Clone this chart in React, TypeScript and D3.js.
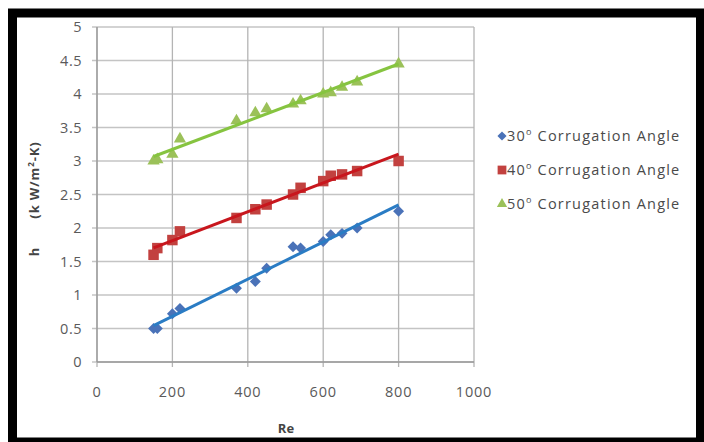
import * as d3 from "d3";

// Re values shared by all three series
const reValues = [150, 160, 200, 220, 370, 420, 450, 520, 540, 600, 620, 650, 690, 800];
const h30 = [0.5, 0.5, 0.72, 0.8, 1.1, 1.2, 1.4, 1.72, 1.7, 1.8, 1.9, 1.92, 2.0, 2.25];
const h40 = [1.6, 1.7, 1.82, 1.95, 2.15, 2.28, 2.35, 2.5, 2.6, 2.7, 2.78, 2.8, 2.85, 3.0];
const h50 = [3.0, 3.02, 3.1, 3.33, 3.6, 3.72, 3.78, 3.85, 3.9, 4.0, 4.02, 4.1, 4.18, 4.45];

const seriesNames = ["30\u00b0 Corrugation Angle", "40\u00b0 Corrugation Angle", "50\u00b0 Corrugation Angle"];
const xTicks = [0, 200, 400, 600, 800, 1000];
const yTicks = [0, 0.5, 1, 1.5, 2, 2.5, 3, 3.5, 4, 4.5, 5];

const W = 704;
const H = 442;

const x = d3.scaleLinear().domain([0, 1000]).range([97, 474]);
const y = d3.scaleLinear().domain([0, 5]).range([362, 27]);

const styles = [
  { marker: "#4a72b8", line: "#2a7cc4", symbol: d3.symbolSquare, size: 60, rot: 45 },
  { marker: "#c2413f", line: "#c8161d", symbol: d3.symbolSquare, size: 110, rot: 0 },
  { marker: "#9bc159", line: "#86c440", symbol: d3.symbolTriangle, size: 65, rot: 0 },
];

// least squares trend line
function fit(xs: number[], ys: number[]) {
  const mx = d3.mean(xs)!;
  const my = d3.mean(ys)!;
  let num = 0;
  let den = 0;
  xs.forEach((v, i) => {
    num += (v - mx) * (ys[i] - my);
    den += (v - mx) * (v - mx);
  });
  const b = num / den;
  const a = my - b * mx;
  const x0 = d3.min(xs)!;
  const x1 = d3.max(xs)!;
  return [
    [x0, a + b * x0],
    [x1, a + b * x1],
  ];
}

const font = "'Open Sans', 'Liberation Sans', sans-serif";

export default function App() {
  const all = [h30, h40, h50];
  const line = d3
    .line<number[]>()
    .x((d) => x(d[0]))
    .y((d) => y(d[1]));

  return (
    <svg width={W} height={H} style={{ position: "absolute", left: 0, top: 0 }}>
      <rect x={0} y={0} width={W} height={H} fill="#fff" />
      {/* black frame */}
      <rect x={12.5} y={13} width={688} height={429} fill="none" stroke="#000" strokeWidth={9} />

      {/* grid */}
      {yTicks.map((t) => (
        <g key={"y" + t}>
          <line x1={x(0) - 5} x2={x(1000)} y1={y(t)} y2={y(t)} stroke="#c4c4c4" strokeWidth={1.3} />
          <text x={82} y={y(t) + 5} textAnchor="end" fontSize={14.5} letterSpacing={0.5} fill="#5a5a5a" fontFamily={font}>
            {t}
          </text>
        </g>
      ))}
      {xTicks.map((t) => (
        <g key={"x" + t}>
          <line x1={x(t)} x2={x(t)} y1={y(5)} y2={y(0) + 5} stroke="#b4b4b4" strokeWidth={1.3} />
          <text x={x(t)} y={397} textAnchor="middle" fontSize={14.5} letterSpacing={0.8} fill="#5a5a5a" fontFamily={font}>
            {t}
          </text>
        </g>
      ))}
      <line x1={x(0)} x2={x(0)} y1={y(5)} y2={y(0)} stroke="#999" strokeWidth={1.3} />
      <line x1={x(0)} x2={x(1000)} y1={y(0)} y2={y(0)} stroke="#999" strokeWidth={1.3} />

      {/* axis titles */}
      <text x={286} y={433} textAnchor="middle" fontSize={13} fontWeight="bold" fill="#444" fontFamily={font}>
        Re
      </text>
      <text
        transform="translate(39,252) rotate(-90)"
        textAnchor="middle"
        fontSize={13}
        fontWeight="bold"
        fill="#444"
        fontFamily={font}
      >
        h
      </text>
      <text
        transform="translate(39,180) rotate(-90)"
        textAnchor="middle"
        fontSize={13}
        fontWeight="bold"
        letterSpacing={0.9}
        fill="#444"
        fontFamily={font}
      >
        {"(k W/m"}
        <tspan fontSize={8} dy={-5}>2</tspan>
        <tspan dy={5}>-K)</tspan>
      </text>

      {/* series */}
      {all.map((vals, si) => {
        const st = styles[si];
        const sym = d3.symbol().type(st.symbol).size(st.size)();
        return (
          <g key={si}>
            {reValues.map((re, i) => (
              <path
                key={i}
                d={sym!}
                transform={`translate(${x(re)},${y(vals[i])}) rotate(${st.rot})`}
                fill={st.marker}
              />
            ))}
            <path d={line(fit(reValues, vals))!} fill="none" stroke={st.line} strokeWidth={3} />
          </g>
        );
      })}

      {/* legend */}
      {seriesNames.map((name, i) => {
        const st = styles[i];
        const sym = d3.symbol().type(st.symbol).size(st.size * 0.7)();
        const ly = 136 + i * 34;
        return (
          <g key={name} transform={`translate(502,${ly})`}>
            <path d={sym!} transform={`rotate(${st.rot})`} fill={st.marker} />
            <text x={5} y={5} fontSize={14.5} letterSpacing={1.2} fill="#4a4a4a" fontFamily={font}>
              {name.slice(0, 2)}
              <tspan fontSize={9} dy={-6}>o</tspan>
              <tspan dy={6}>{" " + name.slice(3)}</tspan>
            </text>
          </g>
        );
      })}
    </svg>
  );
}
